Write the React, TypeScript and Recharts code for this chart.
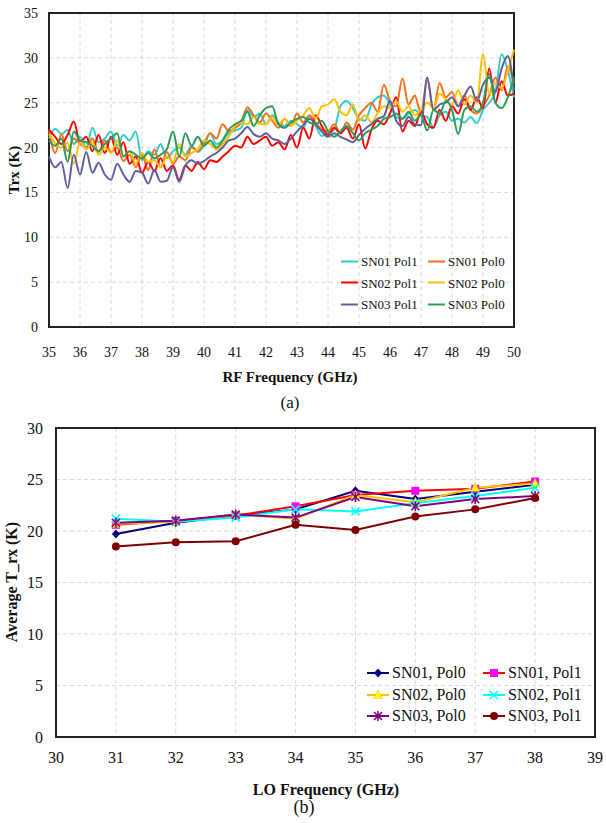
import React from 'react';
import { LineChart, Line, XAxis, YAxis, CartesianGrid, ReferenceArea } from 'recharts';

// ---------- Chart (a) data ----------
const rfFreq = [35,35.2,35.4,35.6,35.8,36,36.2,36.4,36.6,36.8,37,37.2,37.4,37.6,37.8,38,38.2,38.4,38.6,38.8,39,39.2,39.4,39.6,39.8,40,40.2,40.4,40.6,40.8,41,41.2,41.4,41.6,41.8,42,42.2,42.4,42.6,42.8,43,43.2,43.4,43.6,43.8,44,44.2,44.4,44.6,44.8,45,45.2,45.4,45.6,45.8,46,46.2,46.4,46.6,46.8,47,47.2,47.4,47.6,47.8,48,48.2,48.4,48.6,48.8,49,49.2,49.4,49.6,49.8,50];

const sn01Pol1 = [21.0,22.1,21.5,22.0,20.4,21.2,20.0,22.2,20.6,21.0, 21.8,20.2,21.4,20.8,21.8,18.6,19.6,19.2,20.4,18.8, 19.6,20.0,19.2,20.2,19.5,20.2,21.6,20.4,20.8,21.6, 21.9,22.2,24.2,23.4,23.8,22.6,23.6,22.8,22.4,23.0, 22.6,22.2,23.5,22.4,21.3,21.6,22.0,24.6,25.2,24.4, 23.2,23.0,24.8,25.6,25.8,24.8,23.4,23.2,23.8,24.2, 23.6,23.4,22.3,23.6,24.0,23.0,23.2,22.8,23.4,22.7, 24.2,25.0,26.2,30.4,28.6,25.6];
const sn01Pol0 = [22.0,19.4,21.5,19.6,21.0,20.4,20.0,21.0,19.5,20.8, 19.5,20.0,18.5,19.2,17.8,19.2,17.5,19.8,17.8,19.5, 18.2,19.0,18.6,20.0,19.6,20.5,21.6,21.0,22.6,21.8, 22.2,22.8,24.5,23.6,22.8,23.8,23.0,22.2,23.2,22.4, 23.8,22.8,23.6,22.8,22.0,21.8,22.6,21.6,22.8,22.0, 23.6,24.4,25.0,24.0,27.0,25.2,24.6,27.7,24.8,25.8, 23.8,27.6,24.2,27.2,25.6,26.2,24.6,25.8,24.2,23.8, 24.6,25.8,27.8,26.4,29.0,27.2];
const sn02Pol1 = [22.0,21.2,20.4,21.4,22.9,20.6,21.2,19.6,21.4,19.4, 21.2,19.2,20.6,18.2,19.0,17.2,18.4,17.4,18.8,17.4, 18.0,16.4,18.0,17.4,18.4,17.6,18.6,18.4,19.0,19.6, 20.2,20.0,21.2,20.4,20.8,21.2,20.2,20.6,19.8,21.4, 20.0,22.2,21.0,23.6,22.4,21.4,22.2,21.6,22.2,21.0, 22.6,19.9,22.0,23.0,22.6,23.8,25.6,21.8,23.0,22.4, 24.0,22.6,22.2,24.2,23.0,24.6,23.8,25.4,24.2,25.6, 24.4,28.8,25.0,27.4,25.8,26.0];
const sn02Pol0 = [21.5,20.5,20.0,20.5,18.2,20.6,19.8,20.6,19.2,20.0, 19.4,20.8,19.0,19.6,18.2,19.4,18.4,18.6,17.8,19.0, 18.4,20.4,19.0,19.4,19.8,20.8,20.4,19.8,20.4,21.2, 22.4,22.8,22.6,23.4,22.6,22.6,23.4,22.6,23.2,22.4, 23.0,23.6,24.4,23.2,24.6,24.8,25.4,24.0,23.6,24.8, 23.0,23.6,22.8,23.8,24.6,24.4,25.2,24.0,24.6,23.6, 24.2,25.0,24.4,26.0,25.4,24.8,26.4,24.8,25.8,25.0, 30.4,26.0,27.2,26.6,28.6,30.9];
const sn03Pol1 = [19.0,17.8,18.4,15.5,19.2,17.0,19.5,17.2,18.3,17.0, 16.4,18.2,17.0,16.2,17.4,17.2,16.0,17.5,16.2,16.3, 17.8,16.2,18.0,18.6,18.2,18.5,19.0,19.4,20.0,20.8, 21.0,21.6,22.3,21.5,21.2,21.6,21.0,20.8,20.4,21.0, 21.8,22.5,23.2,22.6,21.8,21.2,21.6,21.2,20.9,20.6, 21.4,22.1,22.6,23.2,23.5,25.2,23.0,22.4,23.4,22.6, 22.5,27.8,24.2,24.8,25.0,25.6,24.6,25.8,26.8,25.2, 27.0,27.8,26.2,28.8,30.2,26.4];
const sn03Pol0 = [20.8,20.2,21.0,18.4,21.8,20.8,20.6,20.2,19.6,20.4, 21.0,21.6,19.0,19.6,19.2,18.8,19.4,18.8,19.2,19.8, 21.8,19.0,21.6,20.2,21.2,20.2,20.8,20.0,20.8,22.0, 22.6,23.0,24.0,22.4,23.6,24.4,24.6,22.6,22.2,22.8, 23.2,23.4,22.8,22.6,23.0,21.8,21.2,21.8,22.4,21.6, 20.8,21.6,22.0,22.4,23.2,23.4,23.8,23.2,24.0,23.0, 23.6,21.9,24.2,23.8,25.2,24.2,21.5,24.2,24.6,24.0, 25.0,28.2,25.0,24.4,25.6,27.8];

const rfTicks = [35,36,37,38,39,40,41,42,43,44,45,46,47,48,49,50];
const trxTicks = [0,5,10,15,20,25,30,35];

// ---------- Chart (b) data ----------
const loFreq = [31,32,33,34,35,36,37,38];
const avgSN01Pol0 = [19.7,20.8,21.5,22.1,23.9,23.1,23.8,24.5];
const avgSN01Pol1 = [20.6,21.0,21.5,22.4,23.5,23.9,24.1,24.8];
const avgSN02Pol0 = [20.7,20.9,21.6,21.2,23.5,22.8,24.2,24.6];
const avgSN02Pol1 = [21.2,20.9,21.3,22.1,21.9,22.7,23.4,24.2];
const avgSN03Pol0 = [20.8,21.0,21.6,21.3,23.3,22.4,23.1,23.4];
const avgSN03Pol1 = [18.5,18.9,19.0,20.6,20.1,21.4,22.1,23.2];

const loTicks = [30,31,32,33,34,35,36,37,38,39];
const avgTicks = [0,5,10,15,20,25,30];

const topRows = rfFreq.map((f, i) => ({
  f,
  a: sn01Pol1[i], b: sn01Pol0[i], c: sn02Pol1[i],
  d: sn02Pol0[i], e: sn03Pol1[i], g: sn03Pol0[i],
}));

const botRows = loFreq.map((f, i) => ({
  f,
  a: avgSN01Pol0[i], b: avgSN01Pol1[i], c: avgSN02Pol0[i],
  d: avgSN02Pol1[i], e: avgSN03Pol0[i], g: avgSN03Pol1[i],
}));

const topSeries = [
  { key: 'a', name: 'SN01 Pol1', color: '#33CCCC' },
  { key: 'b', name: 'SN01 Pol0', color: '#F5701F' },
  { key: 'c', name: 'SN02 Pol1', color: '#FF0000' },
  { key: 'd', name: 'SN02 Pol0', color: '#FFC000' },
  { key: 'e', name: 'SN03 Pol1', color: '#5F5FA0' },
  { key: 'g', name: 'SN03 Pol0', color: '#2E9B57' },
];

// ---------- markers ----------
const mk = (kind: string) => (props: any) => {
  const { cx, cy, index } = props;
  if (cx == null || cy == null) return <g key={index} />;
  return <g key={index}>{marker(kind, cx, cy)}</g>;
};

function marker(kind: string, cx: number, cy: number) {
  switch (kind) {
    case 'diamond':
      return <polygon points={`${cx},${cy - 4.5} ${cx + 4},${cy} ${cx},${cy + 4.5} ${cx - 4},${cy}`} fill="#000080" />;
    case 'square':
      return <rect x={cx - 4} y={cy - 4} width={8} height={8} fill="#FF00FF" />;
    case 'triangle':
      return <polygon points={`${cx},${cy - 5} ${cx + 4.5},${cy + 3.5} ${cx - 4.5},${cy + 3.5}`} fill="#FFFF00" stroke="#E6C000" strokeWidth={0.5} />;
    case 'x':
      return (
        <g stroke="#00FFFF" strokeWidth={1.6}>
          <line x1={cx - 4} y1={cy - 4} x2={cx + 4} y2={cy + 4} />
          <line x1={cx - 4} y1={cy + 4} x2={cx + 4} y2={cy - 4} />
        </g>
      );
    case 'star':
      return (
        <g stroke="#800080" strokeWidth={1.6}>
          <line x1={cx - 4} y1={cy - 4} x2={cx + 4} y2={cy + 4} />
          <line x1={cx - 4} y1={cy + 4} x2={cx + 4} y2={cy - 4} />
          <line x1={cx} y1={cy - 5} x2={cx} y2={cy + 5} />
        </g>
      );
    default:
      return <circle cx={cx} cy={cy} r={4} fill="#800000" />;
  }
}

const botSeries = [
  { key: 'a', name: 'SN01, Pol0', color: '#000080', kind: 'diamond' },
  { key: 'b', name: 'SN01, Pol1', color: '#FF0000', kind: 'square' },
  { key: 'c', name: 'SN02, Pol0', color: '#FFC000', kind: 'triangle' },
  { key: 'd', name: 'SN02, Pol1', color: '#00FFFF', kind: 'x' },
  { key: 'e', name: 'SN03, Pol0', color: '#800080', kind: 'star' },
  { key: 'g', name: 'SN03, Pol1', color: '#800000', kind: 'circle' },
];

const FONT = "'Liberation Serif', 'DejaVu Serif', serif";

const Txt = ({ x, y, size, bold, rotate, children }: any) => (
  <div
    style={{
      position: 'absolute', left: x, top: y,
      transform: `translate(-50%, -50%)${rotate ? ' rotate(-90deg)' : ''}`,
      fontSize: size, fontWeight: bold ? 'bold' : 'normal', whiteSpace: 'nowrap',
      lineHeight: 1, color: '#111', fontFamily: FONT,
    }}
  >
    {children}
  </div>
);

const LegendEntry = ({ x, y, color, label, size, len, kind }: any) => (
  <div style={{ position: 'absolute', left: x, top: y, transform: 'translateY(-50%)', display: 'flex', alignItems: 'center', fontSize: size, lineHeight: 1, whiteSpace: 'nowrap', color: '#111', fontFamily: FONT }}>
    <svg width={len} height={12} style={{ display: 'block' }}>
      <line x1={0} y1={6} x2={len} y2={6} stroke={color} strokeWidth={2} />
      {kind ? marker(kind, len / 2, 6) : null}
    </svg>
    <span style={{ marginLeft: 3 }}>{label}</span>
  </div>
);

export default function App() {
  const tickTop = { fontSize: 14, fill: '#111', fontFamily: FONT, style: { fontFamily: FONT } };
  const tickBot = { fontSize: 16, fill: '#111', fontFamily: FONT, style: { fontFamily: FONT } };
  return (
    <div style={{ position: 'absolute', left: 0, top: 0, width: 606, height: 823, background: '#fff', fontFamily: FONT, overflow: 'hidden' }}>
      <div style={{ position: 'absolute', left: 0, top: 0 }}>
        <LineChart width={606} height={400} data={topRows} margin={{ top: 13, right: 92, bottom: 0, left: 0 }} style={{ fontFamily: FONT }}>
          <CartesianGrid stroke="#d8d8d8" strokeDasharray="4 3" />
          <XAxis dataKey="f" type="number" domain={[35, 50]} ticks={rfTicks} height={73} axisLine={false} tickLine={false} tickSize={0} tickMargin={20} tick={tickTop} interval={0} />
          <YAxis type="number" domain={[0, 35]} ticks={trxTicks} width={49} axisLine={false} tickLine={false} tickSize={0} tickMargin={11} tick={tickTop} interval={0} />
          {topSeries.map((s) => (
            <Line key={s.key} dataKey={s.key} name={s.name} stroke={s.color} strokeWidth={2} dot={false} type="monotone" isAnimationActive={false} />
          ))}
          <ReferenceArea x1={35} x2={50} y1={0} y2={35} fill="none" fillOpacity={0} stroke="#222" strokeWidth={2} ifOverflow="visible" />
        </LineChart>
      </div>
      <Txt x={14} y={170} size={15} bold rotate>Trx (K)</Txt>
      <Txt x={290} y={377} size={15} bold>RF Frequency (GHz)</Txt>
      <Txt x={290} y={402} size={17}>(a)</Txt>
      {topSeries.map((s, i) => (
        <LegendEntry key={s.key} x={i % 2 === 0 ? 341 : 428} y={261 + Math.floor(i / 2) * 21.5} color={s.color} label={s.name} size={13} len={17} />
      ))}

      <div style={{ position: 'absolute', left: 0, top: 415 }}>
        <LineChart width={606} height={400} data={botRows} margin={{ top: 13, right: 11, bottom: 0, left: 0 }} style={{ fontFamily: FONT }}>
          <CartesianGrid stroke="#d8d8d8" strokeDasharray="4 3" />
          <XAxis dataKey="f" type="number" domain={[30, 39]} ticks={loTicks} height={78} axisLine={false} tickLine={false} tickSize={0} tickMargin={15} tick={tickBot} interval={0} />
          <YAxis type="number" domain={[0, 30]} ticks={avgTicks} width={56} axisLine={false} tickLine={false} tickSize={0} tickMargin={13} tick={tickBot} interval={0} />
          {botSeries.map((s) => (
            <Line key={s.key} dataKey={s.key} name={s.name} stroke={s.color} strokeWidth={2} dot={mk(s.kind)} activeDot={false} type="linear" isAnimationActive={false} />
          ))}
          <ReferenceArea x1={30} x2={39} y1={0} y2={30} fill="none" fillOpacity={0} stroke="#222" strokeWidth={2} ifOverflow="visible" />
        </LineChart>
      </div>
      <Txt x={12} y={582} size={16} bold rotate>Average T_rx (K)</Txt>
      <Txt x={326} y={790} size={16} bold>LO Frequency (GHz)</Txt>
      <Txt x={304} y={807} size={18}>(b)</Txt>
      {botSeries.map((s, i) => (
        <LegendEntry key={s.key} x={i % 2 === 0 ? 367 : 483} y={673 + Math.floor(i / 2) * 21.5} color={s.color} label={s.name} size={16} len={22} kind={s.kind} />
      ))}
    </div>
  );
}
